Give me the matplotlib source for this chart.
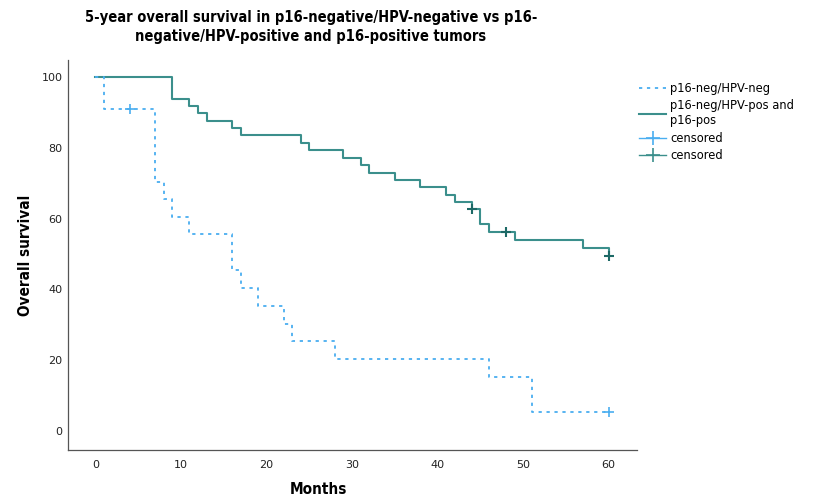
import numpy as np
import matplotlib
matplotlib.use("Agg")
import matplotlib.pyplot as plt
from matplotlib.lines import Line2D

# p16-neg/HPV-neg (dotted blue)
neg_t = [0, 1, 7, 8, 9, 11, 16, 17, 19, 22, 23, 28, 46, 51, 60]
neg_s = [100, 90.9, 70.4, 65.4, 60.4, 55.5, 45.5, 40.4, 35.3, 30.3, 25.3, 20.2, 15.2, 5.2, 5.2]
neg_cens_t = [4, 60]
neg_cens_s = [90.9, 5.2]

# p16-neg/HPV-pos and p16-pos (solid teal)
pos_t = [0, 9, 11, 12, 13, 16, 17, 24, 25, 29, 31, 32, 35, 38, 41, 42, 44, 45, 46, 49, 57, 60]
pos_s = [100, 93.9, 91.8, 89.8, 87.7, 85.6, 83.5, 81.4, 79.3, 77.2, 75.1, 73.0, 70.9,
         68.8, 66.7, 64.6, 62.6, 58.4, 56.2, 54.0, 51.6, 49.3]
pos_cens_t = [44, 48, 60]
pos_cens_s = [62.6, 56.2, 49.3]

blue = "#4aaef0"
teal = "#3b8f8c"
teal_dark = "#1d6966"
dots = (0, (1.8, 2.6))

fig = plt.figure(figsize=(8.14, 5.01), dpi=100)
ax = fig.add_axes([0.0835, 0.102, 0.699, 0.778])

ax.step(pos_t, pos_s, where="post", color=teal, lw=1.5)
ax.step(neg_t, neg_s, where="post", color=blue, lw=1.3, linestyle=dots)
ax.plot(neg_cens_t, neg_cens_s, "+", color=blue, ms=7, mew=1.2)
ax.plot(pos_cens_t, pos_cens_s, "+", color=teal_dark, ms=7, mew=1.5)

ax.set_xlim(-3.2, 63.3)
ax.set_ylim(-5.4, 104.8)
ax.set_xticks(np.arange(0, 61, 10))
ax.set_yticks(np.arange(0, 101, 20))
ax.tick_params(length=0, labelsize=8, colors="#222222")
ax.tick_params(axis="x", pad=7)
ax.tick_params(axis="y", pad=4)
for s in ["top", "right"]:
    ax.spines[s].set_visible(False)
for s in ["left", "bottom"]:
    ax.spines[s].set_color("#555555")
    ax.spines[s].set_linewidth(0.9)

ax.set_xlabel("Months", fontsize=11, fontweight="bold", stretch="condensed")
ax.set_ylabel("Overall survival", fontsize=11, fontweight="bold", stretch="condensed")
ax.xaxis.set_label_coords(0.44, -0.082)
ax.yaxis.set_label_coords(-0.062, 0.5)

fig.text(0.382, 0.98, "5-year overall survival in p16-negative/HPV-negative vs p16-\nnegative/HPV-positive and p16-positive tumors",
         ha="center", va="top", fontsize=10.5, fontweight="bold", linespacing=1.3, stretch="condensed")

handles = [
    Line2D([], [], color=blue, lw=1.3, linestyle=dots),
    Line2D([], [], color=teal, lw=1.5),
    Line2D([], [], color=blue, lw=1.0, marker="+", ms=10, mew=1.2),
    Line2D([], [], color=teal, lw=1.0, marker="+", ms=10, mew=1.2),
]
labels = ["p16-neg/HPV-neg", "p16-neg/HPV-pos and\np16-pos", "censored", "censored"]
fig.legend(handles, labels, loc="upper left", bbox_to_anchor=(0.772, 0.857), frameon=False,
           fontsize=8.3, handlelength=2.4, handletextpad=0.35, labelspacing=0.38)

fig.savefig("out.png", dpi=100)
